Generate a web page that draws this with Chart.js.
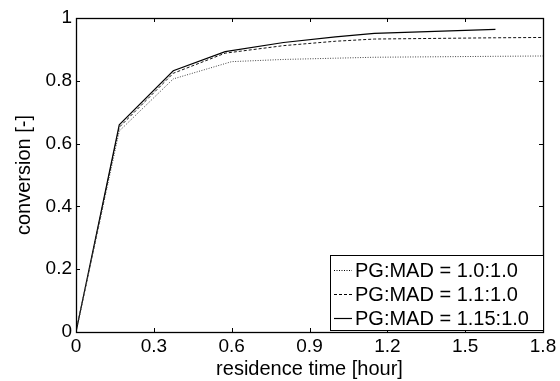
<!DOCTYPE html>
<html lang="en">
<head>
    <meta charset="UTF-8">
    <title>Conversion vs residence time</title>
    <script src="https://cdn.jsdelivr.net/npm/chart.js"></script>
    <style>
        html, body { margin: 0; padding: 0; background: #fff; }
        .chart-container { width: 560px; height: 381px; }
    </style>
</head>
<body>
    <div class="chart-container">
        <canvas id="convChart"></canvas>
    </div>

    <script>
        var seriesLabels = ["PG:MAD = 1.0:1.0", "PG:MAD = 1.1:1.0", "PG:MAD = 1.15:1.0"];

        var timeDotted = [0, 0.1667, 0.375, 0.6, 0.8, 1.0, 1.15, 1.6167, 1.8];
        var convDotted = [0, 0.640, 0.806, 0.861, 0.868, 0.872, 0.875, 0.878, 0.879];

        var timeDashed = [0, 0.1667, 0.375, 0.575, 0.8, 1.0, 1.15, 1.6167, 1.8];
        var convDashed = [0, 0.652, 0.824, 0.888, 0.912, 0.926, 0.933, 0.937, 0.938];

        var timeSolid = [0, 0.1667, 0.375, 0.575, 0.8, 1.0, 1.15, 1.6167];
        var convSolid = [0, 0.660, 0.832, 0.893, 0.922, 0.940, 0.951, 0.964];

        var xTicks = [0, 0.3, 0.6, 0.9, 1.2, 1.5, 1.8];
        var yTicks = [0, 0.2, 0.4, 0.6, 0.8, 1];

        var FONT = "Arial, 'Liberation Sans', sans-serif";

        function toPoints(xs, ys) {
            return xs.map(function (x, i) { return { x: x, y: ys[i] }; });
        }

        // box around the axes with inward tick marks (matlab look)
        var framePlugin = {
            id: "frame",
            afterDatasetsDraw: function (chart) {
                var ctx = chart.ctx;
                var a = chart.chartArea;
                var xs = chart.scales.x, ys = chart.scales.y;
                ctx.save();
                ctx.strokeStyle = "#000";
                ctx.lineWidth = 1;
                ctx.beginPath();
                xTicks.forEach(function (t) {
                    var px = Math.round(xs.getPixelForValue(t)) + 0.5;
                    ctx.moveTo(px, a.bottom); ctx.lineTo(px, a.bottom - 4);
                    ctx.moveTo(px, a.top); ctx.lineTo(px, a.top + 4);
                });
                yTicks.forEach(function (t) {
                    var py = Math.round(ys.getPixelForValue(t)) + 0.5;
                    ctx.moveTo(a.left, py); ctx.lineTo(a.left + 4, py);
                    ctx.moveTo(a.right, py); ctx.lineTo(a.right - 4, py);
                });
                ctx.stroke();
                ctx.lineWidth = 1.3;
                ctx.strokeRect(Math.round(a.left) + 0.5, Math.round(a.top) + 0.5,
                    Math.round(a.right - a.left), Math.round(a.bottom - a.top));
                ctx.restore();
            }
        };

        // legend box in the lower right corner inside the axes
        var legendPlugin = {
            id: "boxLegend",
            afterDraw: function (chart) {
                var ctx = chart.ctx;
                var a = chart.chartArea;
                var w = 213, h = 75;
                var x0 = Math.round(a.right) - w, y0 = Math.round(a.bottom) - h - 2;
                ctx.save();
                ctx.fillStyle = "#fff";
                ctx.fillRect(x0, y0, w, h);
                ctx.strokeStyle = "#000";
                ctx.lineWidth = 1;
                ctx.strokeRect(x0 + 0.5, y0 + 0.5, w, h);
                ctx.font = "20px " + FONT;
                ctx.textBaseline = "middle";
                ctx.fillStyle = "#000";
                chart.data.datasets.forEach(function (ds, i) {
                    var cy = y0 + 15 + i * 24;
                    ctx.beginPath();
                    ctx.setLineDash(ds.borderDash || []);
                    ctx.lineWidth = ds.borderWidth;
                    ctx.moveTo(x0 + 4, cy + 0.5);
                    ctx.lineTo(x0 + 22, cy + 0.5);
                    ctx.stroke();
                    ctx.setLineDash([]);
                    ctx.fillText(ds.label, x0 + 25, cy + 1);
                });
                ctx.restore();
            }
        };

        var ctx = document.getElementById("convChart").getContext("2d");
        var convChart = new Chart(ctx, {
            type: "line",
            data: {
                datasets: [{
                    label: seriesLabels[0],
                    data: toPoints(timeDotted, convDotted),
                    borderColor: "#444",
                    borderWidth: 1,
                    borderDash: [1, 1.5]
                }, {
                    label: seriesLabels[1],
                    data: toPoints(timeDashed, convDashed),
                    borderColor: "#111",
                    borderWidth: 1,
                    borderDash: [3, 2]
                }, {
                    label: seriesLabels[2],
                    data: toPoints(timeSolid, convSolid),
                    borderColor: "#000",
                    borderWidth: 1.2
                }]
            },
            options: {
                responsive: true,
                maintainAspectRatio: false,
                animation: false,
                elements: { point: { radius: 0 }, line: { tension: 0 } },
                layout: { padding: { top: 18, right: 17, left: 0, bottom: 0 } },
                plugins: {
                    legend: { display: false },
                    tooltip: { enabled: false }
                },
                scales: {
                    x: {
                        type: "linear",
                        min: 0,
                        max: 1.8,
                        afterBuildTicks: function (scale) {
                            scale.ticks = xTicks.map(function (v) { return { value: v }; });
                        },
                        afterFit: function (scale) { scale.height = 49; },
                        grid: { display: false, drawTicks: false },
                        border: { display: false },
                        ticks: {
                            color: "#000",
                            padding: 3,
                            maxRotation: 0,
                            autoSkip: false,
                            font: { family: FONT, size: 19 },
                            callback: function (v) { return String(v); }
                        },
                        title: {
                            display: true,
                            text: "residence time [hour]",
                            color: "#000",
                            font: { family: FONT, size: 20 },
                            padding: { top: 0, bottom: 0 }
                        }
                    },
                    y: {
                        min: 0,
                        max: 1,
                        afterBuildTicks: function (scale) {
                            scale.ticks = yTicks.map(function (v) { return { value: v }; });
                        },
                        afterFit: function (scale) { scale.width = 76; },
                        grid: { display: false, drawTicks: false },
                        border: { display: false },
                        ticks: {
                            color: "#000",
                            padding: 4,
                            font: { family: FONT, size: 19 },
                            callback: function (v) { return String(v); }
                        },
                        title: {
                            display: true,
                            text: "conversion [-]",
                            color: "#000",
                            font: { family: FONT, size: 20 },
                            padding: { top: 12, bottom: 0 }
                        }
                    }
                }
            },
            plugins: [framePlugin, legendPlugin]
        });
    </script>
</body>
</html>
